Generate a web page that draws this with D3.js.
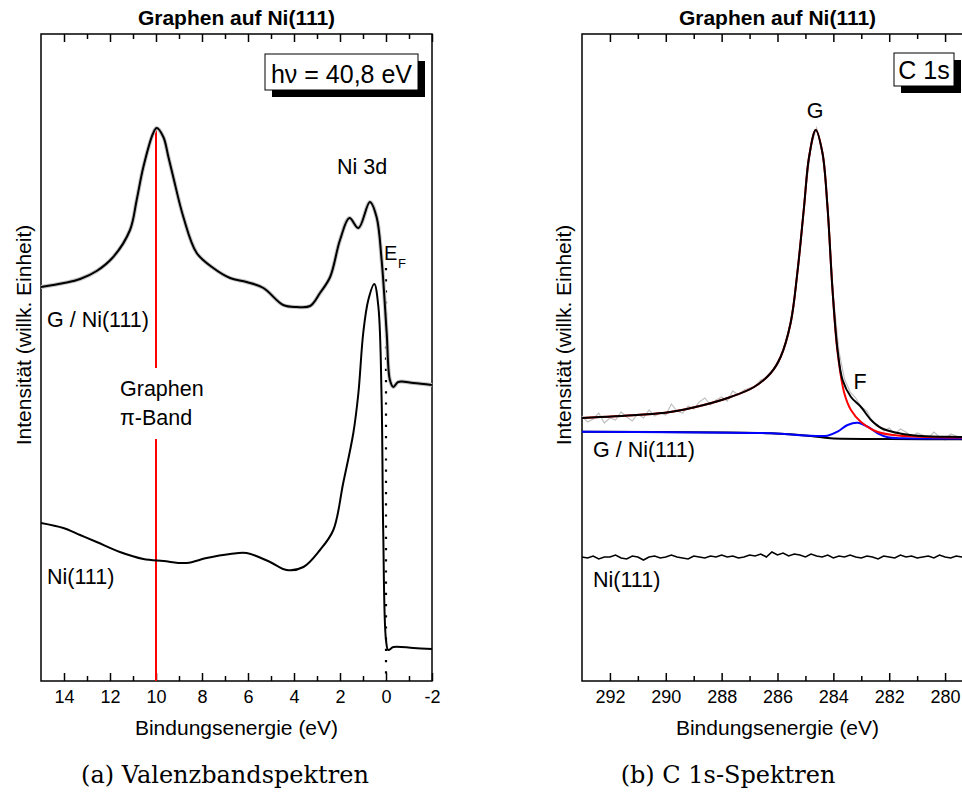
<!DOCTYPE html>
<html>
<head>
<meta charset="utf-8">
<script src="https://cdn.jsdelivr.net/npm/d3@7"></script>
<style>
  body { margin: 0; background: #fff; }
  text { font-family: Arial, "Liberation Sans", sans-serif; fill: #000; }
  .tick text { font-size: 18px; }
  .caption { font-family: "DejaVu Serif", serif; font-size: 24px; }
</style>
</head>
<body>
<div id="chart"></div>
<script>
// valence band spectra (binding energy eV, intensity arb. units)
const vbGraphene = [
  [15.0, 394], [14.0, 398], [13.3, 402], [12.58, 410], [11.86, 424], [11.13, 451],
  [10.84, 481], [10.55, 514], [10.12, 548], [9.97, 553], [9.68, 544], [9.46, 524],
  [9.25, 504], [8.81, 464], [8.23, 428], [7.51, 413], [6.78, 403], [6.06, 399],
  [5.33, 393], [4.47, 376], [3.88, 374], [3.30, 375], [2.87, 388], [2.43, 404],
  [2.0, 441], [1.59, 463], [1.20, 453], [0.70, 479], [0.41, 464], [0.19, 421],
  [-0.03, 348], [-0.17, 301], [-0.32, 294], [-0.53, 299], [-1.19, 298], [-2.0, 296]
];
const vbNickel = [
  [15.0, 158], [14.03, 153], [13.3, 146], [12.58, 139], [11.57, 129], [10.55, 122],
  [9.68, 120], [8.67, 118], [7.8, 123], [6.78, 127], [6.06, 128], [5.04, 119],
  [4.32, 111], [3.59, 114], [2.87, 131], [2.29, 151], [1.86, 198], [1.42, 248],
  [1.2, 288], [0.99, 348], [0.77, 381], [0.51, 397], [0.33, 374], [0.19, 281],
  [0.12, 148], [0.0, 41], [-0.1, 31], [-0.32, 34], [-1.19, 33], [-2.0, 32]
];
const piBandPos = 10;
const piBandSegments = [[553, 313], [242, 0]];
const fermiLine = [413, 0];

// C 1s spectra
const c1sRaw = [
  [293.0, 265], [292.8, 259], [292.6, 262], [292.4, 268], [292.2, 258], [292.0, 263],
  [291.8, 261], [291.6, 269], [291.4, 264], [291.2, 260], [291.0, 267], [290.8, 263],
  [290.6, 271], [290.4, 265], [290.2, 268], [290.0, 266], [289.8, 277], [289.6, 270],
  [289.4, 268], [289.2, 275], [289.0, 272], [288.8, 279], [288.6, 283], [288.4, 276],
  [288.2, 281], [288.0, 284], [287.8, 280], [287.6, 290], [287.4, 286], [287.2, 291],
  [287.0, 293], [286.8, 295], [286.6, 301], [286.4, 303], [286.2, 309], [286.0, 316],
  [285.8, 330], [285.6, 350], [285.4, 382], [285.2, 430], [285.0, 488], [284.8, 535],
  [284.6, 553], [284.4, 530], [284.2, 476], [284.0, 385], [283.8, 330], [283.6, 302],
  [283.4, 289], [283.2, 283], [283.0, 274], [282.8, 270], [282.6, 259], [282.4, 256],
  [282.2, 250], [282.0, 253], [281.8, 247], [281.6, 252], [281.4, 249], [281.2, 244],
  [281.0, 248], [280.8, 246], [280.6, 243], [280.4, 249], [280.2, 244], [280.0, 241],
  [279.8, 247], [279.6, 245], [279.4, 241], [279.2, 248], [279.0, 243]
];
const c1sEnvelope = [
  [293.0, 263], [291.03, 266], [289.84, 269], [288.64, 276], [287.68, 284], [286.84, 294],
  [286.24, 308], [285.89, 324], [285.53, 358], [285.29, 408], [285.05, 474], [284.87, 524],
  [284.63, 551], [284.39, 528], [284.21, 474], [284.03, 391], [283.85, 331], [283.67, 301],
  [283.37, 284], [283.01, 274], [282.65, 261], [282.29, 253], [281.69, 248], [280.86, 245],
  [279.36, 244], [279.0, 243.5]
];
const c1sPeakG = [
  [293.0, 263], [291.03, 266], [289.84, 269], [288.64, 276], [287.68, 284], [286.84, 294],
  [286.24, 308], [285.89, 324], [285.53, 358], [285.29, 408], [285.05, 474], [284.87, 524],
  [284.63, 551], [284.39, 528], [284.21, 474], [284.03, 391], [283.85, 329], [283.61, 288],
  [283.37, 271], [283.01, 259], [282.41, 249], [281.45, 245], [279.0, 243.5]
];
const c1sPeakF = [
  [293.0, 249.3], [289.84, 248.7], [286.24, 247.7], [284.81, 245.3], [284.21, 245.3],
  [283.85, 249.3], [283.49, 256], [283.13, 258.3], [282.77, 254.3], [282.41, 247.7],
  [282.05, 243.7], [281.45, 242.7], [279.0, 242.7]
];
const c1sBackground = [
  [293.0, 249.3], [286.24, 247.7], [284.81, 245], [284.1, 242.7], [282.0, 242], [279.0, 241.7]
];
const c1sNickel = [
  124, 123, 125, 122, 124, 124, 126, 123, 122, 125,
  124, 121, 124, 125, 123, 124, 126, 124, 123, 122,
  125, 124, 123, 125, 124, 126, 124, 125, 123, 124,
  126, 125, 127, 124, 129, 126, 128, 125, 127, 126,
  124, 127, 125, 124, 126, 123, 125, 124, 126, 124,
  123, 125, 124, 122, 125, 124, 123, 126, 124, 125,
  123, 124, 125, 123, 126, 124, 123, 125, 124, 122,
  124
];
const c1sNickelStart = 293.0;
const c1sNickelStep = 0.2;

const vbMajorTicks = [14, 12, 10, 8, 6, 4, 2, 0, -2];
const vbMinorTicks = [13, 11, 9, 7, 5, 3, 1, -1];
const c1sMajorTicks = [292, 290, 288, 286, 284, 282, 280];
const c1sMinorTicks = [291, 289, 287, 285, 283, 281, 279];

const width = 962;
const height = 792;
const plotTop = 34;
const plotBottom = 681;

const svg = d3.select('#chart')
  .append('svg')
  .attr('width', width)
  .attr('height', height);

const y = d3.scaleLinear().domain([0, 647]).range([plotBottom, plotTop]);

function drawPanel(x, opts) {
  const g = svg.append('g');
  const [x0, x1] = x.range();

  // ticks, all pointing inward
  [[opts.major, 8], [opts.minor, 5]].forEach(([vals, len], i) => {
    const bottom = g.append('g')
      .attr('transform', `translate(0,${plotBottom})`)
      .call(d3.axisBottom(x).tickValues(vals).tickSize(-len).tickPadding(9)
        .tickFormat(i === 0 ? d => String(d) : ''));
    const top = g.append('g')
      .attr('transform', `translate(0,${plotTop})`)
      .call(d3.axisTop(x).tickValues(vals).tickSize(-len).tickFormat(''));
    [bottom, top].forEach(a => {
      a.select('.domain').remove();
      a.selectAll('line').attr('stroke-width', 1.5);
    });
  });

  g.append('rect')
    .attr('x', x0).attr('y', plotTop)
    .attr('width', x1 - x0).attr('height', plotBottom - plotTop)
    .attr('fill', 'none').attr('stroke', '#000').attr('stroke-width', 1.5);

  g.append('text')
    .attr('x', (x0 + x1) / 2).attr('y', 25)
    .attr('text-anchor', 'middle')
    .attr('font-size', '21px').attr('font-weight', 'bold')
    .text('Graphen auf Ni(111)');

  g.append('text')
    .attr('x', (x0 + x1) / 2).attr('y', 735)
    .attr('text-anchor', 'middle')
    .attr('font-size', '21px')
    .text('Bindungsenergie (eV)');

  g.append('text')
    .attr('transform', `translate(${opts.ylabelX},335) rotate(-90)`)
    .attr('text-anchor', 'middle')
    .attr('dominant-baseline', 'central')
    .attr('font-size', '21px')
    .text('Intensität (willk. Einheit)');

  svg.append('text')
    .attr('class', 'caption')
    .attr('x', opts.captionX).attr('y', 783)
    .attr('text-anchor', 'middle')
    .text(opts.caption);

  return g;
}

function infoBox(g, x0, y0, w, h, label) {
  g.append('rect')
    .attr('x', x0 + 7).attr('y', y0 + 7).attr('width', w).attr('height', h)
    .attr('fill', '#000');
  g.append('rect')
    .attr('x', x0).attr('y', y0).attr('width', w).attr('height', h)
    .attr('fill', '#fff').attr('stroke', '#000').attr('stroke-width', 1);
  g.append('text')
    .attr('x', x0 + w / 2).attr('y', y0 + h - 7)
    .attr('text-anchor', 'middle')
    .attr('font-size', '25px')
    .text(label);
}

function label(g, x, yy, txt, size, anchor) {
  return g.append('text')
    .attr('x', x).attr('y', yy)
    .attr('text-anchor', anchor || 'start')
    .attr('font-size', (size || 21.5) + 'px')
    .text(txt);
}

// (a) valence band
(function() {
  const x = d3.scaleLinear().domain([15, -2]).range([41, 432]);
  const g = drawPanel(x, {
    major: vbMajorTicks, minor: vbMinorTicks, ylabelX: 23,
    caption: '(a) Valenzbandspektren', captionX: 225
  });

  const line = d3.line()
    .x(d => x(d[0])).y(d => y(d[1]))
    .curve(d3.curveCatmullRom.alpha(0.5));

  piBandSegments.forEach(s => {
    g.append('line')
      .attr('x1', x(piBandPos)).attr('x2', x(piBandPos))
      .attr('y1', y(s[0])).attr('y2', y(s[1]))
      .attr('stroke', '#ff0000').attr('stroke-width', 2);
  });

  g.append('line')
    .attr('x1', x(0)).attr('x2', x(0))
    .attr('y1', y(fermiLine[0])).attr('y2', y(fermiLine[1]))
    .attr('stroke', '#000').attr('stroke-width', 2.2)
    .attr('stroke-dasharray', '2.2,9');

  g.append('path').datum(vbGraphene)
    .attr('d', line).attr('fill', 'none')
    .attr('stroke', '#c4c4c4').attr('stroke-width', 4);
  [vbGraphene, vbNickel].forEach(data => {
    g.append('path').datum(data)
      .attr('d', line).attr('fill', 'none')
      .attr('stroke', '#000').attr('stroke-width', 2)
      .attr('stroke-linejoin', 'round');
  });

  infoBox(g, 265, 54, 153, 36, 'hν = 40,8 eV');

  label(g, 337, 174, 'Ni 3d');
  label(g, 384, 260, 'E', 20);
  label(g, 398, 268, 'F', 13);
  label(g, 47, 327, 'G / Ni(111)');
  label(g, 47, 584, 'Ni(111)');
  label(g, 120, 396, 'Graphen');
  label(g, 120, 425, 'π-Band');
})();

// (b) C 1s
(function() {
  const x = d3.scaleLinear().domain([293, 279]).range([582, 973]);
  const g = drawPanel(x, {
    major: c1sMajorTicks, minor: c1sMinorTicks, ylabelX: 563,
    caption: '(b) C 1s-Spektren', captionX: 728
  });

  const smooth = d3.line()
    .x(d => x(d[0])).y(d => y(d[1]))
    .curve(d3.curveCatmullRom.alpha(0.5));
  const raw = d3.line()
    .x(d => x(d[0])).y(d => y(d[1]));

  g.append('path').datum(c1sRaw)
    .attr('d', raw).attr('fill', 'none')
    .attr('stroke', '#c0c0c0').attr('stroke-width', 1.2);

  [[c1sBackground, '#000'], [c1sPeakF, '#0000ff'], [c1sPeakG, '#ff0000'], [c1sEnvelope, '#000']]
    .forEach(([data, color]) => {
      g.append('path').datum(data)
        .attr('d', smooth).attr('fill', 'none')
        .attr('stroke', color).attr('stroke-width', 2);
    });

  const nickel = c1sNickel.map((v, i) => [c1sNickelStart - i * c1sNickelStep, v]);
  g.append('path').datum(nickel)
    .attr('d', raw).attr('fill', 'none')
    .attr('stroke', '#000').attr('stroke-width', 1.6);

  infoBox(g, 894, 53, 60, 33, 'C 1s');

  label(g, 815, 118, 'G', 21.5, 'middle');
  label(g, 860, 389, 'F', 21.5, 'middle');
  label(g, 593, 457, 'G / Ni(111)');
  label(g, 593, 587, 'Ni(111)');
})();
</script>
</body>
</html>
